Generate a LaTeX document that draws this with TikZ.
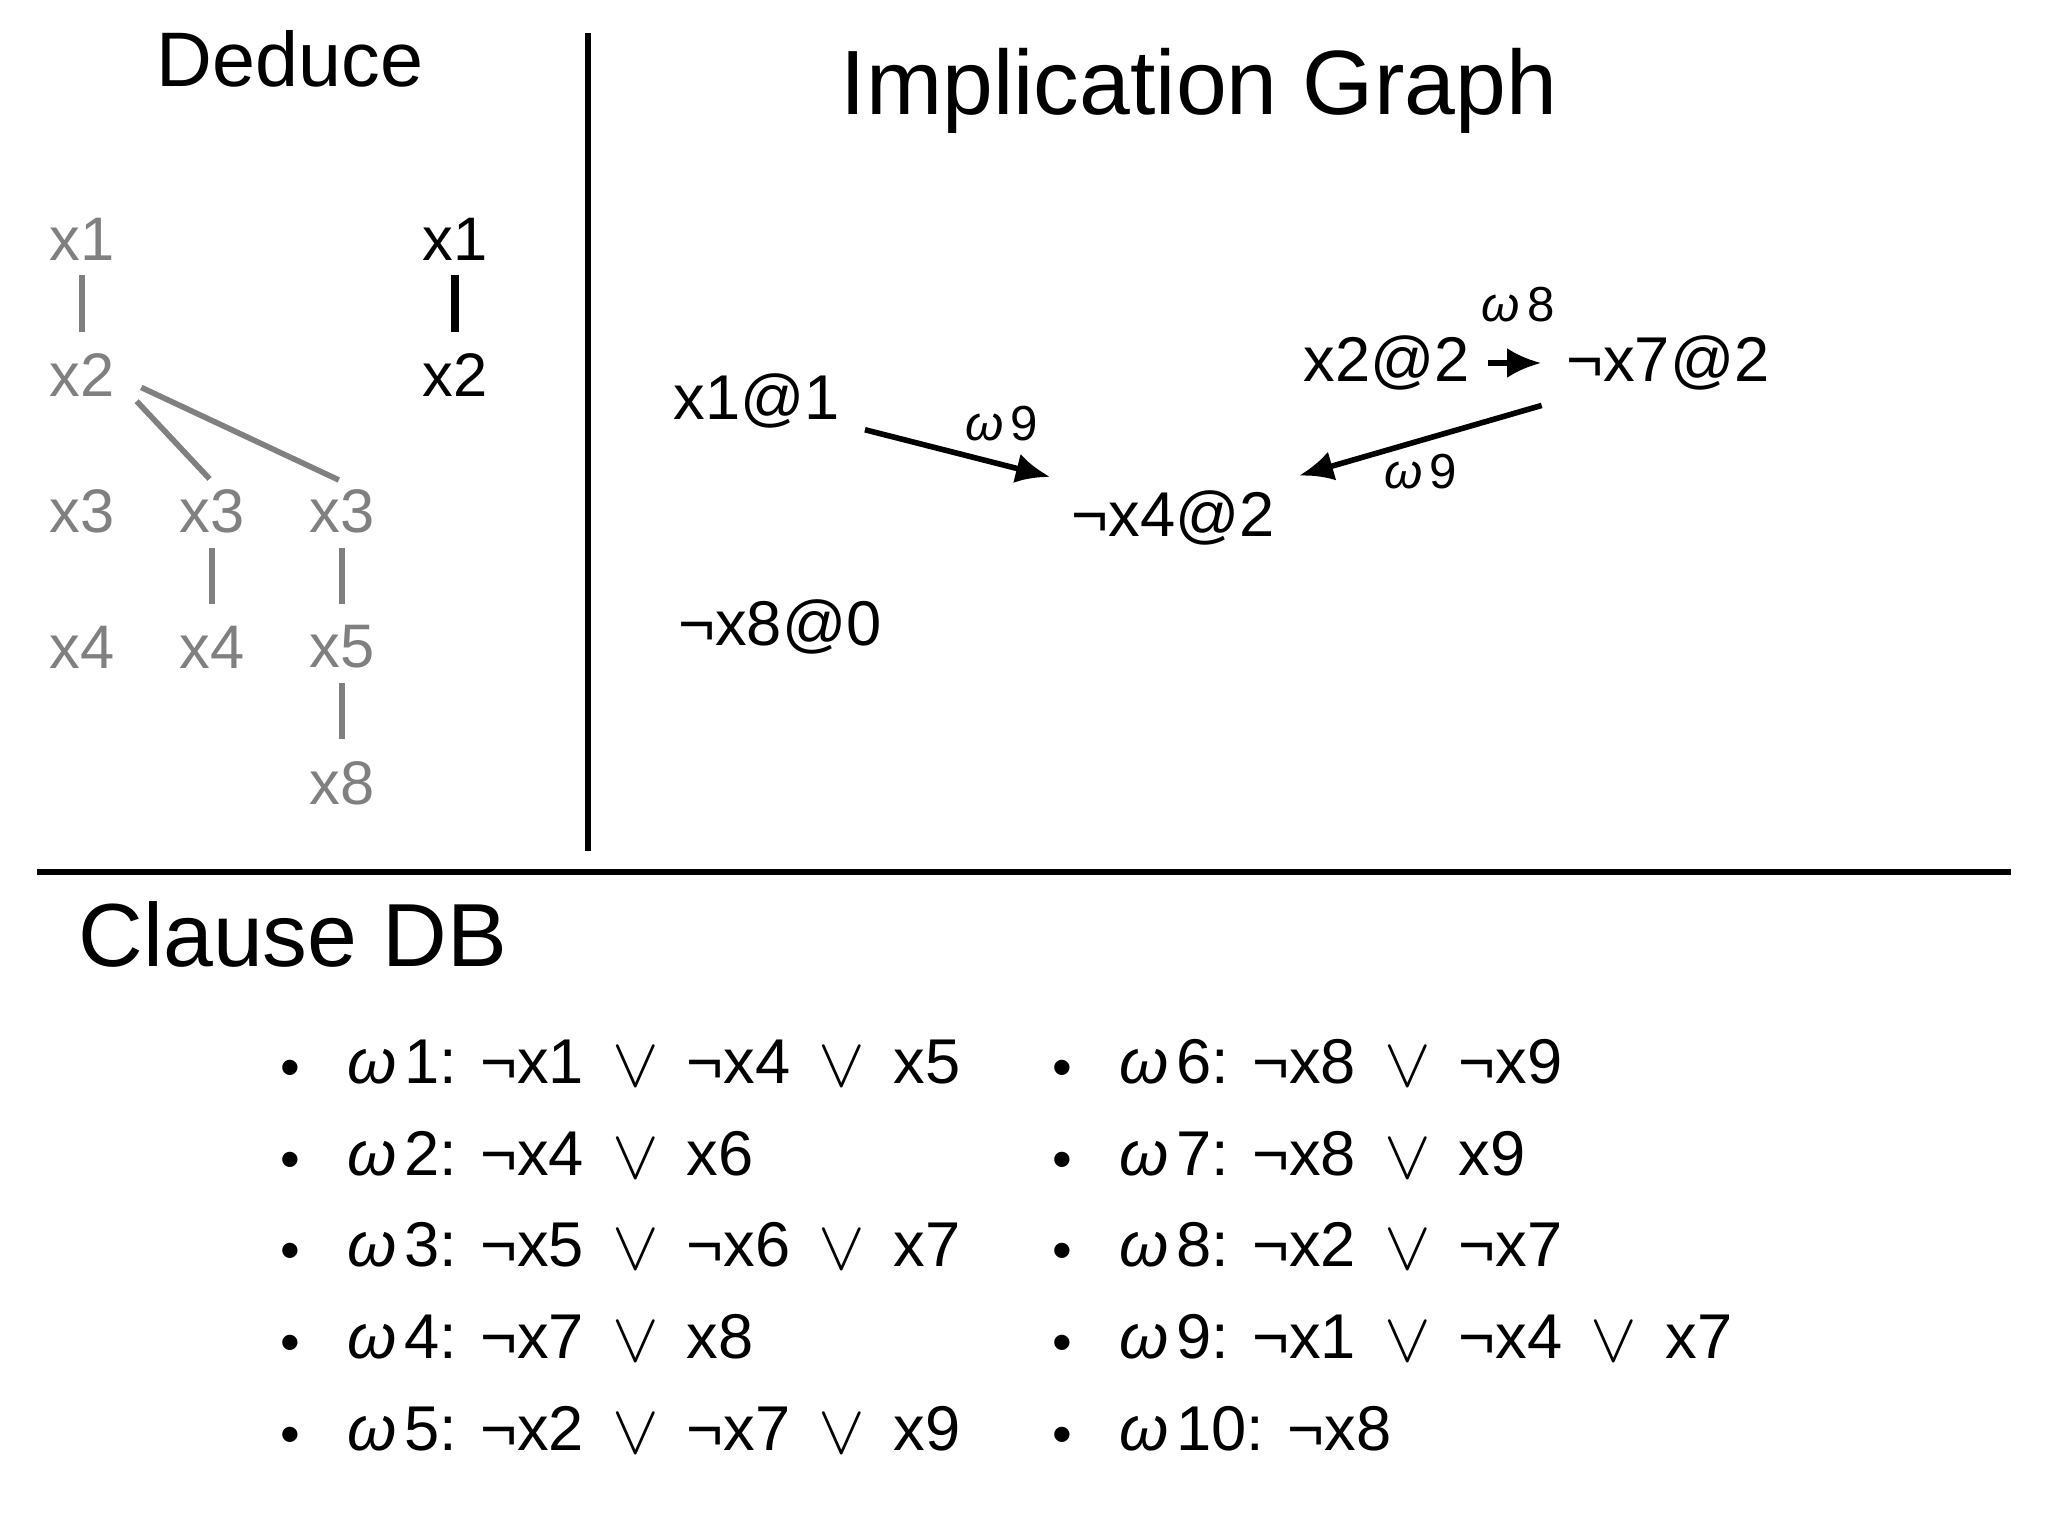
\documentclass[tikz,border=0pt]{standalone}
\usepackage{fontspec}
\setmainfont{Liberation Sans}
\usepackage{graphicx}
\usepackage{tikz}
\usetikzlibrary{arrows.meta,positioning}

\definecolor{treegray}{gray}{0.5}
\newcommand{\orsym}{\hspace{8pt}\raisebox{-1pt}{\scalebox{1.15}{$\vee$}}\hspace{8pt}}
\newcommand{\om}{{\itshape ω}\hspace{2pt}}
\newcommand{\bul}{\raisebox{-1pt}{\fontsize{16}{18}\selectfont •}\hspace{13.5pt}}

\begin{document}
\begin{tikzpicture}[x=1cm, y=1cm, >={Latex[length=3.4mm,width=3mm]}]
		\tikzstyle{title}=[inner sep=0pt, font=\fontsize{26}{30}\selectfont]
		\tikzstyle{tnode}=[inner sep=2pt, text=treegray, font=\fontsize{17.5}{21}\selectfont]
		\tikzstyle{bnode}=[tnode, text=black]
		\tikzstyle{tline}=[draw=treegray, line width=1.6pt]
		\tikzstyle{bline}=[draw=black, line width=2pt]
		\tikzstyle{lit}=[inner sep=3pt, font=\fontsize{18}{22}\selectfont]
		\tikzstyle{lab}=[inner sep=2pt, font=\fontsize{14}{17}\selectfont]
		\tikzstyle{connect}=[->, line width=1.6pt]
		\tikzstyle{clause}=[anchor=base west, inner sep=0pt, font=\fontsize{18}{22}\selectfont]
		\useasboundingbox (0,0) rectangle (20.48,-15.36);
		% headings and dividers
		\node[title, font=\fontsize{22}{26}\selectfont] (deduce) at (2.90,-0.59) {Deduce};
		\node[title] (graph) at (11.99,-0.91) {Implication Graph};
		\node[title, font=\fontsize{25.5}{30}\selectfont, anchor=west] (db) at (0.78,-9.34) {Clause DB};
		\coordinate (vtop) at (5.88,-0.33);
		\coordinate (vbot) at (5.88,-8.51);
		\coordinate (hleft) at (0.37,-8.72);
		\coordinate (hright) at (20.11,-8.72);
		\draw[line width=1.5pt] (vtop) -- (vbot);
		\draw[line width=1.5pt] (hleft) -- (hright);
		% decision tree
		\begin{scope}[node distance=1.36cm and 1.30cm, on grid]
		\node[tnode] (gx1) at (0.82,-2.39) {x1};
		\node[tnode] (gx2) [below =of gx1] {x2};
		\node[tnode] (gx3a) [below =of gx2] {x3};
		\node[tnode] (gx3b) [right =of gx3a] {x3};
		\node[tnode] (gx3c) [right =of gx3b] {x3};
		\node[tnode] (gx4a) [below =of gx3a] {x4};
		\node[tnode] (gx4b) [below =of gx3b] {x4};
		\node[tnode] (gx5) [below =of gx3c] {x5};
		\node[tnode] (gx8) [below =of gx5] {x8};
		\node[bnode] (bx1) at (4.55,-2.39) {x1};
		\node[bnode] (bx2) [below =of bx1] {x2};
		\end{scope}
		\path
		(gx1) edge [tline, shorten <=2pt, shorten >=4pt] (gx2)
		(gx2.-15) edge [tline, shorten <=6pt, shorten >=1pt] (gx3b.north)
		(gx2.-5) edge [tline, shorten <=6pt, shorten >=1pt] (gx3c.north)
		(gx3b) edge [tline, shorten <=2pt, shorten >=4pt] (gx4b)
		(gx3c) edge [tline, shorten <=2pt, shorten >=4pt] (gx5)
		(gx5) edge [tline, shorten <=2pt, shorten >=4pt] (gx8)
		(bx1) edge [bline, shorten <=2pt, shorten >=4pt] (bx2)
		;
		% implication graph
		\node[lit] (x11) at (7.57,-4.01) {x1@1};
		\node[lit] (nx42) at (11.73,-5.18) {¬x4@2};
		\node[lit] (x22) at (13.87,-3.63) {x2@2};
		\node[lit] (nx72) at (16.68,-3.63) {¬x7@2};
		\node[lit] (nx80) at (7.80,-6.27) {¬x8@0};
		\draw[connect, shorten <=4pt, shorten >=3pt] (x11.-15) -- node[lab, pos=.72, above=4pt] (w9a) {\om9} (nx42.north west);
		\draw[connect, shorten <=4pt, shorten >=4pt] (nx72.south west) -- node[lab, midway, below=1pt] (w9b) {\om9} (nx42.north east);
		\draw[connect, shorten <=2pt, shorten >=4pt] (x22) -- node[lab, midway, above=9pt] (w8) {\om8} (nx72);
		% clause database
		\node[clause] (c1) at (2.80,-10.83) {\bul\om1: ¬x1\orsym¬x4\orsym x5};
		\node[clause] (c2) at (2.80,-11.75) {\bul\om2: ¬x4\orsym x6};
		\node[clause] (c3) at (2.80,-12.66) {\bul\om3: ¬x5\orsym¬x6\orsym x7};
		\node[clause] (c4) at (2.80,-13.58) {\bul\om4: ¬x7\orsym x8};
		\node[clause] (c5) at (2.80,-14.50) {\bul\om5: ¬x2\orsym¬x7\orsym x9};
		\node[clause] (c6) at (10.52,-10.83) {\bul\om6: ¬x8\orsym¬x9};
		\node[clause] (c7) at (10.52,-11.75) {\bul\om7: ¬x8\orsym x9};
		\node[clause] (c8) at (10.52,-12.66) {\bul\om8: ¬x2\orsym¬x7};
		\node[clause] (c9) at (10.52,-13.58) {\bul\om9: ¬x1\orsym¬x4\orsym x7};
		\node[clause] (c10) at (10.52,-14.50) {\bul\om10: ¬x8};
\end{tikzpicture}
\end{document}
